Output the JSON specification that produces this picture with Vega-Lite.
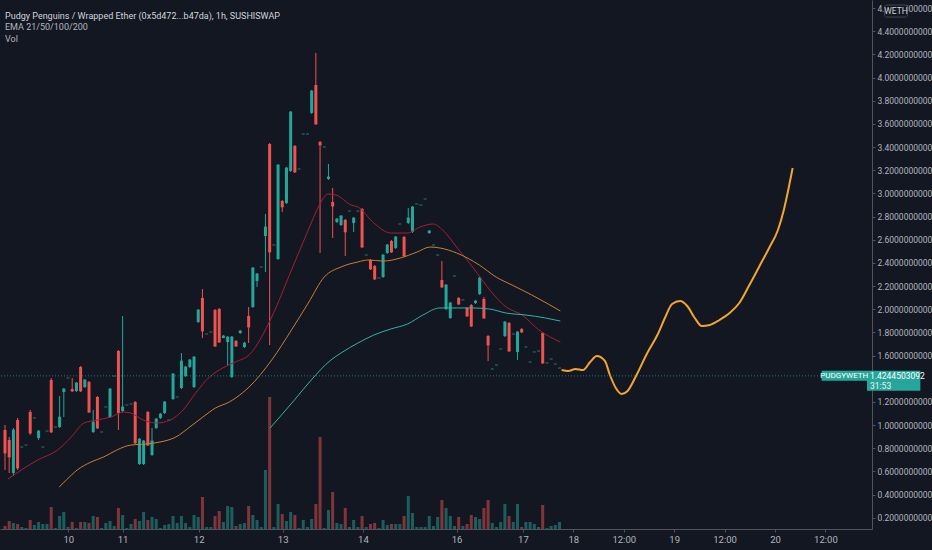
{
  "$schema": "https://vega.github.io/schema/vega-lite/v6.json",
  "autosize": {"type": "none"},
  "padding": {"left": 0, "top": 0, "right": 60, "bottom": 21},
  "width": 872,
  "height": 529,
  "background": "#131722",
  "title": {
    "text": "Pudgy Penguins / Wrapped Ether (0x5d472...b47da), 1h, SUSHISWAP",
    "subtitle": ["EMA 21/50/100/200", "Vol"],
    "anchor": "start",
    "frame": "group",
    "orient": "top",
    "offset": -44,
    "dx": 5,
    "font": "Roboto, sans-serif",
    "fontSize": 9,
    "fontWeight": "normal",
    "color": "#d1d4dc",
    "subtitleFont": "Roboto, sans-serif",
    "subtitleFontSize": 9,
    "subtitleColor": "#b2b5be",
    "subtitleLineHeight": 12.5,
    "subtitlePadding": 2
  },
  "datasets": {
    "candles": [
      {"bar": 0, "open": 0.957, "high": 1.0, "low": 0.612, "close": 0.758, "volume": 3},
      {"bar": 1, "open": 0.871, "high": 0.897, "low": 0.586, "close": 0.724, "volume": 8},
      {"bar": 2, "open": 0.586, "high": 0.974, "low": 0.56, "close": 0.957, "volume": 6},
      {"bar": 3, "open": 1.043, "high": 1.061, "low": 0.612, "close": 0.629, "volume": 5},
      {"bar": 4, "open": 0.81, "high": 0.81, "low": 0.81, "close": 0.81, "volume": 2},
      {"bar": 5, "open": 0.827, "high": 0.827, "low": 0.827, "close": 0.827, "volume": 1},
      {"bar": 6, "open": 1.112, "high": 1.13, "low": 0.914, "close": 0.931, "volume": 9},
      {"bar": 7, "open": 1.061, "high": 1.061, "low": 1.061, "close": 1.061, "volume": 4},
      {"bar": 8, "open": 0.888, "high": 0.957, "low": 0.871, "close": 0.948, "volume": 7},
      {"bar": 9, "open": 0.81, "high": 0.81, "low": 0.81, "close": 0.81, "volume": 5},
      {"bar": 10, "open": 0.948, "high": 0.948, "low": 0.948, "close": 0.948, "volume": 5},
      {"bar": 11, "open": 1.389, "high": 1.406, "low": 0.931, "close": 0.94, "volume": 22},
      {"bar": 12, "open": 0.983, "high": 0.983, "low": 0.983, "close": 0.983, "volume": 1},
      {"bar": 13, "open": 0.983, "high": 1.251, "low": 0.974, "close": 1.069, "volume": 13},
      {"bar": 14, "open": 1.285, "high": 1.32, "low": 1.069, "close": 1.311, "volume": 17},
      {"bar": 15, "open": 1.406, "high": 1.406, "low": 1.406, "close": 1.406, "volume": 2},
      {"bar": 16, "open": 1.311, "high": 1.406, "low": 1.285, "close": 1.294, "volume": 7},
      {"bar": 17, "open": 1.294, "high": 1.372, "low": 1.285, "close": 1.363, "volume": 1},
      {"bar": 18, "open": 1.501, "high": 1.51, "low": 1.285, "close": 1.294, "volume": 7},
      {"bar": 19, "open": 1.328, "high": 1.397, "low": 1.32, "close": 1.389, "volume": 7},
      {"bar": 20, "open": 1.372, "high": 1.38, "low": 1.104, "close": 1.112, "volume": 6},
      {"bar": 21, "open": 0.94, "high": 1.13, "low": 0.931, "close": 1.026, "volume": 13},
      {"bar": 22, "open": 1.242, "high": 1.251, "low": 0.966, "close": 0.974, "volume": 12},
      {"bar": 23, "open": 0.94, "high": 0.94, "low": 0.94, "close": 0.94, "volume": 1},
      {"bar": 24, "open": 1.156, "high": 1.156, "low": 1.156, "close": 1.156, "volume": 6},
      {"bar": 25, "open": 1.069, "high": 1.32, "low": 1.061, "close": 1.311, "volume": 8},
      {"bar": 26, "open": 1.423, "high": 1.423, "low": 1.423, "close": 1.423, "volume": 3},
      {"bar": 27, "open": 1.639, "high": 1.648, "low": 0.957, "close": 1.104, "volume": 21},
      {"bar": 28, "open": 1.121, "high": 1.942, "low": 1.112, "close": 1.156, "volume": 14},
      {"bar": 29, "open": 1.173, "high": 1.173, "low": 1.173, "close": 1.173, "volume": 1},
      {"bar": 30, "open": 1.182, "high": 1.182, "low": 1.182, "close": 1.182, "volume": 5},
      {"bar": 31, "open": 1.199, "high": 1.207, "low": 0.836, "close": 0.845, "volume": 10},
      {"bar": 32, "open": 0.663, "high": 0.888, "low": 0.655, "close": 0.879, "volume": 8},
      {"bar": 33, "open": 0.663, "high": 0.871, "low": 0.655, "close": 0.862, "volume": 17},
      {"bar": 34, "open": 1.112, "high": 1.121, "low": 0.819, "close": 0.827, "volume": 9},
      {"bar": 35, "open": 0.741, "high": 0.974, "low": 0.732, "close": 0.862, "volume": 12},
      {"bar": 36, "open": 0.974, "high": 1.061, "low": 0.966, "close": 1.052, "volume": 10},
      {"bar": 37, "open": 1.061, "high": 1.104, "low": 1.052, "close": 1.095, "volume": 1},
      {"bar": 38, "open": 1.104, "high": 1.207, "low": 1.095, "close": 1.199, "volume": 4},
      {"bar": 39, "open": 1.043, "high": 1.043, "low": 1.043, "close": 1.043, "volume": 5},
      {"bar": 40, "open": 1.225, "high": 1.449, "low": 1.216, "close": 1.441, "volume": 13},
      {"bar": 41, "open": 1.242, "high": 1.242, "low": 1.242, "close": 1.242, "volume": 6},
      {"bar": 42, "open": 1.32, "high": 1.622, "low": 1.311, "close": 1.553, "volume": 13},
      {"bar": 43, "open": 1.423, "high": 1.51, "low": 1.415, "close": 1.501, "volume": 6},
      {"bar": 44, "open": 1.501, "high": 1.57, "low": 1.492, "close": 1.562, "volume": 2},
      {"bar": 45, "open": 1.328, "high": 1.596, "low": 1.32, "close": 1.587, "volume": 14},
      {"bar": 46, "open": 1.89, "high": 2.002, "low": 1.881, "close": 1.993, "volume": 12},
      {"bar": 47, "open": 2.097, "high": 2.175, "low": 1.751, "close": 1.812, "volume": 32},
      {"bar": 48, "open": 1.786, "high": 1.786, "low": 1.786, "close": 1.786, "volume": 2},
      {"bar": 49, "open": 1.803, "high": 1.803, "low": 1.803, "close": 1.803, "volume": 2},
      {"bar": 50, "open": 1.993, "high": 2.002, "low": 1.674, "close": 1.682, "volume": 13},
      {"bar": 51, "open": 2.002, "high": 2.011, "low": 1.708, "close": 1.717, "volume": 18},
      {"bar": 52, "open": 1.751, "high": 1.777, "low": 1.751, "close": 1.769, "volume": 7},
      {"bar": 53, "open": 1.717, "high": 1.769, "low": 1.518, "close": 1.76, "volume": 23},
      {"bar": 54, "open": 1.415, "high": 1.769, "low": 1.406, "close": 1.76, "volume": 22},
      {"bar": 55, "open": 1.726, "high": 1.734, "low": 1.674, "close": 1.682, "volume": 3},
      {"bar": 56, "open": 1.795, "high": 1.821, "low": 1.786, "close": 1.812, "volume": 5},
      {"bar": 57, "open": 1.674, "high": 1.717, "low": 1.665, "close": 1.708, "volume": 6},
      {"bar": 58, "open": 1.942, "high": 2.019, "low": 1.708, "close": 1.846, "volume": 23},
      {"bar": 59, "open": 2.019, "high": 2.365, "low": 2.011, "close": 2.356, "volume": 14},
      {"bar": 60, "open": 2.244, "high": 2.313, "low": 2.192, "close": 2.304, "volume": 9},
      {"bar": 61, "open": 2.365, "high": 2.365, "low": 2.365, "close": 2.365, "volume": 2},
      {"bar": 62, "open": 2.632, "high": 2.822, "low": 2.321, "close": 2.71, "volume": 59},
      {"bar": 63, "open": 3.427, "high": 3.435, "low": 1.691, "close": 2.494, "volume": 132},
      {"bar": 64, "open": 2.555, "high": 2.555, "low": 2.555, "close": 2.555, "volume": 2},
      {"bar": 65, "open": 2.434, "high": 3.254, "low": 2.425, "close": 3.245, "volume": 25},
      {"bar": 66, "open": 2.935, "high": 2.943, "low": 2.84, "close": 2.883, "volume": 15},
      {"bar": 67, "open": 2.917, "high": 3.228, "low": 2.909, "close": 3.22, "volume": 8},
      {"bar": 68, "open": 3.194, "high": 3.712, "low": 3.185, "close": 3.703, "volume": 17},
      {"bar": 69, "open": 3.41, "high": 3.418, "low": 3.176, "close": 3.185, "volume": 14},
      {"bar": 70, "open": 3.211, "high": 3.211, "low": 3.211, "close": 3.211, "volume": 1},
      {"bar": 71, "open": 3.513, "high": 3.513, "low": 3.513, "close": 3.513, "volume": 9},
      {"bar": 72, "open": 3.513, "high": 3.513, "low": 3.513, "close": 3.513, "volume": 2},
      {"bar": 73, "open": 3.695, "high": 3.893, "low": 3.686, "close": 3.885, "volume": 10},
      {"bar": 74, "open": 3.936, "high": 4.213, "low": 3.591, "close": 3.6, "volume": 25},
      {"bar": 75, "open": 3.444, "high": 3.453, "low": 2.486, "close": 3.418, "volume": 92},
      {"bar": 76, "open": 3.401, "high": 3.401, "low": 3.401, "close": 3.401, "volume": 1},
      {"bar": 77, "open": 3.125, "high": 3.254, "low": 3.116, "close": 3.142, "volume": 19},
      {"bar": 78, "open": 2.926, "high": 3.047, "low": 2.615, "close": 2.891, "volume": 37},
      {"bar": 79, "open": 2.753, "high": 2.788, "low": 2.745, "close": 2.779, "volume": 6},
      {"bar": 80, "open": 2.727, "high": 2.814, "low": 2.719, "close": 2.805, "volume": 5},
      {"bar": 81, "open": 2.771, "high": 2.779, "low": 2.46, "close": 2.667, "volume": 21},
      {"bar": 82, "open": 2.848, "high": 2.848, "low": 2.848, "close": 2.848, "volume": 2},
      {"bar": 83, "open": 2.745, "high": 2.796, "low": 2.667, "close": 2.788, "volume": 9},
      {"bar": 84, "open": 2.848, "high": 2.848, "low": 2.848, "close": 2.848, "volume": 2},
      {"bar": 85, "open": 2.866, "high": 2.874, "low": 2.529, "close": 2.537, "volume": 13},
      {"bar": 86, "open": 2.468, "high": 2.468, "low": 2.468, "close": 2.468, "volume": 2},
      {"bar": 87, "open": 2.425, "high": 2.434, "low": 2.339, "close": 2.347, "volume": 5},
      {"bar": 88, "open": 2.373, "high": 2.382, "low": 2.252, "close": 2.261, "volume": 6},
      {"bar": 89, "open": 2.27, "high": 2.27, "low": 2.27, "close": 2.27, "volume": 1},
      {"bar": 90, "open": 2.278, "high": 2.477, "low": 2.27, "close": 2.468, "volume": 9},
      {"bar": 91, "open": 2.486, "high": 2.563, "low": 2.477, "close": 2.555, "volume": 4},
      {"bar": 92, "open": 2.589, "high": 2.598, "low": 2.486, "close": 2.494, "volume": 5},
      {"bar": 93, "open": 2.529, "high": 2.632, "low": 2.52, "close": 2.624, "volume": 5},
      {"bar": 94, "open": 2.736, "high": 2.736, "low": 2.736, "close": 2.736, "volume": 5},
      {"bar": 95, "open": 2.624, "high": 2.632, "low": 2.451, "close": 2.46, "volume": 13},
      {"bar": 96, "open": 2.745, "high": 2.874, "low": 2.736, "close": 2.788, "volume": 33},
      {"bar": 97, "open": 2.667, "high": 2.891, "low": 2.658, "close": 2.883, "volume": 16},
      {"bar": 98, "open": 2.909, "high": 2.909, "low": 2.909, "close": 2.909, "volume": 2},
      {"bar": 99, "open": 2.9, "high": 2.9, "low": 2.9, "close": 2.9, "volume": 2},
      {"bar": 100, "open": 2.952, "high": 2.952, "low": 2.952, "close": 2.952, "volume": 2},
      {"bar": 101, "open": 2.658, "high": 2.684, "low": 2.65, "close": 2.676, "volume": 13},
      {"bar": 102, "open": 2.555, "high": 2.555, "low": 2.555, "close": 2.555, "volume": 3},
      {"bar": 103, "open": 2.468, "high": 2.468, "low": 2.468, "close": 2.468, "volume": 12},
      {"bar": 104, "open": 2.252, "high": 2.416, "low": 2.183, "close": 2.192, "volume": 29},
      {"bar": 105, "open": 2.002, "high": 2.218, "low": 1.993, "close": 2.209, "volume": 21},
      {"bar": 106, "open": 1.924, "high": 2.062, "low": 1.916, "close": 2.054, "volume": 13},
      {"bar": 107, "open": 2.287, "high": 2.287, "low": 2.287, "close": 2.287, "volume": 3},
      {"bar": 108, "open": 2.097, "high": 2.106, "low": 2.036, "close": 2.045, "volume": 12},
      {"bar": 109, "open": 2.08, "high": 2.08, "low": 2.08, "close": 2.08, "volume": 3},
      {"bar": 110, "open": 2.011, "high": 2.019, "low": 1.933, "close": 1.942, "volume": 5},
      {"bar": 111, "open": 2.036, "high": 2.045, "low": 1.846, "close": 1.855, "volume": 14},
      {"bar": 112, "open": 2.054, "high": 2.08, "low": 2.045, "close": 2.071, "volume": 12},
      {"bar": 113, "open": 2.131, "high": 2.278, "low": 2.123, "close": 2.27, "volume": 10},
      {"bar": 114, "open": 2.088, "high": 2.106, "low": 1.916, "close": 1.924, "volume": 21},
      {"bar": 115, "open": 1.769, "high": 1.777, "low": 1.553, "close": 1.691, "volume": 29},
      {"bar": 116, "open": 1.484, "high": 1.484, "low": 1.484, "close": 1.484, "volume": 6},
      {"bar": 117, "open": 1.518, "high": 1.518, "low": 1.518, "close": 1.518, "volume": 2},
      {"bar": 118, "open": 1.657, "high": 1.657, "low": 1.657, "close": 1.657, "volume": 7},
      {"bar": 119, "open": 1.769, "high": 1.898, "low": 1.76, "close": 1.89, "volume": 25},
      {"bar": 120, "open": 1.881, "high": 1.89, "low": 1.631, "close": 1.639, "volume": 13},
      {"bar": 121, "open": 1.786, "high": 1.786, "low": 1.786, "close": 1.786, "volume": 7},
      {"bar": 122, "open": 1.631, "high": 1.812, "low": 1.562, "close": 1.803, "volume": 25},
      {"bar": 123, "open": 1.829, "high": 1.838, "low": 1.795, "close": 1.803, "volume": 2},
      {"bar": 124, "open": 1.674, "high": 1.674, "low": 1.674, "close": 1.674, "volume": 7},
      {"bar": 125, "open": 1.544, "high": 1.544, "low": 1.544, "close": 1.544, "volume": 7},
      {"bar": 126, "open": 1.631, "high": 1.631, "low": 1.631, "close": 1.631, "volume": 5},
      {"bar": 127, "open": 1.639, "high": 1.639, "low": 1.639, "close": 1.639, "volume": 2},
      {"bar": 128, "open": 1.795, "high": 1.803, "low": 1.527, "close": 1.536, "volume": 24},
      {"bar": 129, "open": 1.536, "high": 1.536, "low": 1.536, "close": 1.536, "volume": 1},
      {"bar": 130, "open": 1.57, "high": 1.57, "low": 1.57, "close": 1.57, "volume": 3},
      {"bar": 131, "open": 1.527, "high": 1.527, "low": 1.527, "close": 1.527, "volume": 4},
      {"bar": 132, "open": 1.492, "high": 1.492, "low": 1.492, "close": 1.492, "volume": 7}
    ],
    "ema": [
      {"series": "EMA 21", "bar": 0.7, "value": 0.534},
      {"series": "EMA 21", "bar": 7.8, "value": 0.698},
      {"series": "EMA 21", "bar": 12.5, "value": 0.784},
      {"series": "EMA 21", "bar": 15.8, "value": 0.897},
      {"series": "EMA 21", "bar": 18.8, "value": 1.017},
      {"series": "EMA 21", "bar": 21.9, "value": 1.043},
      {"series": "EMA 21", "bar": 25.2, "value": 1.069},
      {"series": "EMA 21", "bar": 28.2, "value": 1.112},
      {"series": "EMA 21", "bar": 29.9, "value": 1.104},
      {"series": "EMA 21", "bar": 32.9, "value": 1.043},
      {"series": "EMA 21", "bar": 36, "value": 1.017},
      {"series": "EMA 21", "bar": 39.3, "value": 1.043},
      {"series": "EMA 21", "bar": 42.4, "value": 1.13},
      {"series": "EMA 21", "bar": 45.4, "value": 1.277},
      {"series": "EMA 21", "bar": 48.7, "value": 1.415},
      {"series": "EMA 21", "bar": 51.8, "value": 1.492},
      {"series": "EMA 21", "bar": 54.8, "value": 1.544},
      {"series": "EMA 21", "bar": 58.1, "value": 1.605},
      {"series": "EMA 21", "bar": 63.5, "value": 1.933},
      {"series": "EMA 21", "bar": 68.2, "value": 2.339},
      {"series": "EMA 21", "bar": 72.2, "value": 2.684},
      {"series": "EMA 21", "bar": 74.6, "value": 2.883},
      {"series": "EMA 21", "bar": 76.9, "value": 2.995},
      {"series": "EMA 21", "bar": 78.8, "value": 2.986},
      {"series": "EMA 21", "bar": 82.4, "value": 2.9},
      {"series": "EMA 21", "bar": 84, "value": 2.883},
      {"series": "EMA 21", "bar": 87.8, "value": 2.745},
      {"series": "EMA 21", "bar": 91.8, "value": 2.658},
      {"series": "EMA 21", "bar": 95.8, "value": 2.658},
      {"series": "EMA 21", "bar": 98.8, "value": 2.71},
      {"series": "EMA 21", "bar": 101.9, "value": 2.736},
      {"series": "EMA 21", "bar": 104.2, "value": 2.684},
      {"series": "EMA 21", "bar": 107.5, "value": 2.537},
      {"series": "EMA 21", "bar": 111.3, "value": 2.365},
      {"series": "EMA 21", "bar": 113.6, "value": 2.252},
      {"series": "EMA 21", "bar": 116, "value": 2.14},
      {"series": "EMA 21", "bar": 119.3, "value": 2.019},
      {"series": "EMA 21", "bar": 123.1, "value": 1.95},
      {"series": "EMA 21", "bar": 127.1, "value": 1.821},
      {"series": "EMA 21", "bar": 132.2, "value": 1.717},
      {"series": "EMA 50", "bar": 12.9, "value": 0.465},
      {"series": "EMA 50", "bar": 14.6, "value": 0.525},
      {"series": "EMA 50", "bar": 17.2, "value": 0.612},
      {"series": "EMA 50", "bar": 20.5, "value": 0.681},
      {"series": "EMA 50", "bar": 23.5, "value": 0.724},
      {"series": "EMA 50", "bar": 26.6, "value": 0.784},
      {"series": "EMA 50", "bar": 29.9, "value": 0.827},
      {"series": "EMA 50", "bar": 33.6, "value": 0.836},
      {"series": "EMA 50", "bar": 36.9, "value": 0.853},
      {"series": "EMA 50", "bar": 40.7, "value": 0.897},
      {"series": "EMA 50", "bar": 44, "value": 0.983},
      {"series": "EMA 50", "bar": 47.1, "value": 1.069},
      {"series": "EMA 50", "bar": 50.1, "value": 1.147},
      {"series": "EMA 50", "bar": 53.4, "value": 1.199},
      {"series": "EMA 50", "bar": 56.5, "value": 1.277},
      {"series": "EMA 50", "bar": 58.1, "value": 1.328},
      {"series": "EMA 50", "bar": 63.5, "value": 1.562},
      {"series": "EMA 50", "bar": 68.2, "value": 1.821},
      {"series": "EMA 50", "bar": 72.2, "value": 2.054},
      {"series": "EMA 50", "bar": 76, "value": 2.278},
      {"series": "EMA 50", "bar": 80, "value": 2.365},
      {"series": "EMA 50", "bar": 84, "value": 2.408},
      {"series": "EMA 50", "bar": 86.4, "value": 2.425},
      {"series": "EMA 50", "bar": 90.1, "value": 2.416},
      {"series": "EMA 50", "bar": 94.1, "value": 2.442},
      {"series": "EMA 50", "bar": 98.1, "value": 2.494},
      {"series": "EMA 50", "bar": 101.2, "value": 2.537},
      {"series": "EMA 50", "bar": 103.5, "value": 2.529},
      {"series": "EMA 50", "bar": 107.5, "value": 2.486},
      {"series": "EMA 50", "bar": 112.9, "value": 2.382},
      {"series": "EMA 50", "bar": 116.9, "value": 2.278},
      {"series": "EMA 50", "bar": 120.7, "value": 2.209},
      {"series": "EMA 50", "bar": 125.4, "value": 2.123},
      {"series": "EMA 50", "bar": 132.2, "value": 1.985},
      {"series": "EMA 100", "bar": 63.1, "value": 0.974},
      {"series": "EMA 100", "bar": 68.9, "value": 1.216},
      {"series": "EMA 100", "bar": 72.9, "value": 1.389},
      {"series": "EMA 100", "bar": 77.6, "value": 1.562},
      {"series": "EMA 100", "bar": 80, "value": 1.622},
      {"series": "EMA 100", "bar": 84, "value": 1.708},
      {"series": "EMA 100", "bar": 87.8, "value": 1.777},
      {"series": "EMA 100", "bar": 91.8, "value": 1.829},
      {"series": "EMA 100", "bar": 95.8, "value": 1.872},
      {"series": "EMA 100", "bar": 99.5, "value": 1.95},
      {"series": "EMA 100", "bar": 103.5, "value": 2.011},
      {"series": "EMA 100", "bar": 107.5, "value": 2.011},
      {"series": "EMA 100", "bar": 111.3, "value": 2.011},
      {"series": "EMA 100", "bar": 115.3, "value": 2.002},
      {"series": "EMA 100", "bar": 119.3, "value": 1.967},
      {"series": "EMA 100", "bar": 124, "value": 1.95},
      {"series": "EMA 100", "bar": 128.7, "value": 1.924},
      {"series": "EMA 100", "bar": 132.2, "value": 1.898}
    ],
    "projection": [
      {"bar": 132.5, "price": 1.475},
      {"bar": 134.1, "price": 1.466},
      {"bar": 135.8, "price": 1.484},
      {"bar": 137.6, "price": 1.475},
      {"bar": 139.3, "price": 1.544},
      {"bar": 140.9, "price": 1.596},
      {"bar": 142.8, "price": 1.553},
      {"bar": 144, "price": 1.432},
      {"bar": 145.4, "price": 1.32},
      {"bar": 146.8, "price": 1.268},
      {"bar": 148.2, "price": 1.294},
      {"bar": 150.1, "price": 1.415},
      {"bar": 152.9, "price": 1.622},
      {"bar": 155.3, "price": 1.777},
      {"bar": 157.2, "price": 1.933},
      {"bar": 158.8, "price": 2.045},
      {"bar": 160.7, "price": 2.071},
      {"bar": 162.4, "price": 2.028},
      {"bar": 164.2, "price": 1.924},
      {"bar": 165.9, "price": 1.855},
      {"bar": 167.8, "price": 1.864},
      {"bar": 170.1, "price": 1.907},
      {"bar": 172.5, "price": 1.967},
      {"bar": 174.8, "price": 2.054},
      {"bar": 177.2, "price": 2.209},
      {"bar": 179.5, "price": 2.365},
      {"bar": 181.9, "price": 2.529},
      {"bar": 184, "price": 2.684},
      {"bar": 185.4, "price": 2.857},
      {"bar": 186.6, "price": 3.055},
      {"bar": 187.5, "price": 3.22}
    ],
    "last": [{"symbol": "PUDGYWETH", "price": 1.4244503092, "countdown": "31:53"}],
    "unit": [{"label": "WETH"}]
  },
  "layer": [
    {
      "data": {"name": "candles"},
      "mark": {"type": "bar", "orient": "vertical", "size": 3, "opacity": 0.5},
      "encoding": {
        "x": {
          "field": "bar",
          "type": "quantitative",
          "scale": {"domain": [0, 205.2], "nice": false, "zero": false},
          "axis": {
            "title": null,
            "orient": "bottom",
            "values": [15.06, 28, 46.1, 66.1, 85.2, 107.5, 123.3, 135.3, 147.3, 159.3, 171.3, 183.3, 195.3],
            "labelExpr": "datum.value < 20 ? '10' : datum.value < 35 ? '11' : datum.value < 55 ? '12' : datum.value < 75 ? '13' : datum.value < 95 ? '14' : datum.value < 115 ? '16' : datum.value < 130 ? '17' : datum.value < 140 ? '18' : datum.value < 150 ? '12:00' : datum.value < 165 ? '19' : datum.value < 175 ? '12:00' : datum.value < 190 ? '20' : '12:00'",
            "tickSize": 3,
            "labelPadding": 2,
            "labelFontSize": 9.5,
            "labelOverlap": false,
            "labelFlush": false
          }
        },
        "y": {"field": "volume", "type": "quantitative", "scale": {"domain": [0, 529], "nice": false}, "axis": null},
        "color": {"condition": {"test": "datum.close >= datum.open", "value": "#26a69a"}, "value": "#ef5350"}
      }
    },
    {
      "data": {"name": "candles"},
      "mark": {"type": "rule", "strokeWidth": 1},
      "encoding": {
        "x": {"field": "bar", "type": "quantitative", "scale": {"domain": [0, 205.2], "nice": false, "zero": false}, "axis": null},
        "y": {"field": "low", "type": "quantitative", "scale": {"domain": [0.1021, 4.6703], "nice": false, "zero": false}, "axis": null},
        "y2": {"field": "high"},
        "color": {"condition": {"test": "datum.close >= datum.open", "value": "#26a69a"}, "value": "#ef5350"}
      }
    },
    {
      "data": {"name": "candles"},
      "mark": {"type": "bar", "size": 3},
      "encoding": {
        "x": {"field": "bar", "type": "quantitative", "scale": {"domain": [0, 205.2], "nice": false, "zero": false}, "axis": null},
        "y": {
          "field": "open",
          "type": "quantitative",
          "scale": {"domain": [0.1021, 4.6703], "nice": false, "zero": false},
          "axis": {
            "title": null,
            "orient": "right",
            "values": [0.2, 0.4, 0.6, 0.8, 1.0, 1.2, 1.6, 1.8, 2.0, 2.2, 2.4, 2.6, 2.8, 3.0, 3.2, 3.4, 3.6, 3.8, 4.0, 4.2, 4.4, 4.6],
            "format": ".10f",
            "tickSize": 3,
            "labelPadding": 2,
            "labelFontSize": 8.5,
            "labelOverlap": false,
            "labelFlush": false
          }
        },
        "y2": {"field": "close"},
        "color": {"condition": {"test": "datum.close >= datum.open", "value": "#26a69a"}, "value": "#ef5350"}
      }
    },
    {
      "data": {"name": "candles"},
      "mark": {"type": "tick", "orient": "horizontal", "size": 3, "thickness": 1},
      "encoding": {
        "x": {"field": "bar", "type": "quantitative", "scale": {"domain": [0, 205.2], "nice": false, "zero": false}, "axis": null},
        "y": {"field": "close", "type": "quantitative", "scale": {"domain": [0.1021, 4.6703], "nice": false, "zero": false}, "axis": null},
        "color": {"condition": {"test": "datum.close >= datum.open", "value": "#26a69a"}, "value": "#ef5350"}
      }
    },
    {
      "data": {"name": "ema"},
      "mark": {"type": "line", "strokeWidth": 1, "interpolate": "monotone"},
      "encoding": {
        "x": {"field": "bar", "type": "quantitative", "scale": {"domain": [0, 205.2], "nice": false, "zero": false}, "axis": null},
        "y": {"field": "value", "type": "quantitative", "scale": {"domain": [0.1021, 4.6703], "nice": false, "zero": false}, "axis": null},
        "color": {
          "field": "series",
          "type": "nominal",
          "scale": {"domain": ["EMA 21", "EMA 50", "EMA 100"], "range": ["#a61e35", "#c98030", "#2fb2aa"]},
          "legend": null
        }
      }
    },
    {
      "data": {"name": "projection"},
      "mark": {"type": "line", "strokeWidth": 2, "interpolate": "monotone", "color": "#f4a52b"},
      "encoding": {
        "x": {"field": "bar", "type": "quantitative", "scale": {"domain": [0, 205.2], "nice": false, "zero": false}, "axis": null},
        "y": {"field": "price", "type": "quantitative", "scale": {"domain": [0.1021, 4.6703], "nice": false, "zero": false}, "axis": null}
      }
    },
    {
      "data": {"name": "last"},
      "mark": {"type": "rule", "strokeWidth": 1, "strokeDash": [1, 2], "color": "#26a69a", "opacity": 0.7},
      "encoding": {
        "y": {"field": "price", "type": "quantitative", "scale": {"domain": [0.1021, 4.6703], "nice": false, "zero": false}, "axis": null}
      }
    },
    {
      "data": {"name": "last"},
      "mark": {"type": "rect", "color": "#26a69a", "height": 10},
      "encoding": {
        "x": {"datum": 194.4, "type": "quantitative", "scale": {"domain": [0, 205.2], "nice": false, "zero": false}, "axis": null},
        "x2": {"datum": 205.2},
        "y": {"field": "price", "type": "quantitative", "scale": {"domain": [0.1021, 4.6703], "nice": false, "zero": false}, "axis": null}
      }
    },
    {
      "data": {"name": "last"},
      "mark": {"type": "rect", "color": "#26a69a", "height": 20, "yOffset": 5},
      "encoding": {
        "x": {"datum": 205.2, "type": "quantitative", "scale": {"domain": [0, 205.2], "nice": false, "zero": false}, "axis": null},
        "x2": {"datum": 217.9},
        "y": {"field": "price", "type": "quantitative", "scale": {"domain": [0.1021, 4.6703], "nice": false, "zero": false}, "axis": null}
      }
    },
    {
      "data": {"name": "last"},
      "mark": {"type": "text", "color": "#ffffff", "fontSize": 8, "font": "Roboto, sans-serif", "align": "center", "baseline": "middle"},
      "encoding": {
        "x": {"datum": 199.8, "type": "quantitative", "scale": {"domain": [0, 205.2], "nice": false, "zero": false}, "axis": null},
        "y": {"field": "price", "type": "quantitative", "scale": {"domain": [0.1021, 4.6703], "nice": false, "zero": false}, "axis": null},
        "text": {"field": "symbol"}
      }
    },
    {
      "data": {"name": "last"},
      "mark": {"type": "text", "color": "#ffffff", "fontSize": 8.5, "font": "Roboto, sans-serif", "align": "left", "baseline": "middle", "dx": 3},
      "encoding": {
        "x": {"datum": 205.2, "type": "quantitative", "scale": {"domain": [0, 205.2], "nice": false, "zero": false}, "axis": null},
        "y": {"field": "price", "type": "quantitative", "scale": {"domain": [0.1021, 4.6703], "nice": false, "zero": false}, "axis": null},
        "text": {"field": "price", "format": ".10f"}
      }
    },
    {
      "data": {"name": "last"},
      "mark": {"type": "text", "color": "#e6f4f2", "fontSize": 8.5, "font": "Roboto, sans-serif", "align": "left", "baseline": "middle", "dx": 3, "dy": 10},
      "encoding": {
        "x": {"datum": 205.2, "type": "quantitative", "scale": {"domain": [0, 205.2], "nice": false, "zero": false}, "axis": null},
        "y": {"field": "price", "type": "quantitative", "scale": {"domain": [0.1021, 4.6703], "nice": false, "zero": false}, "axis": null},
        "text": {"field": "countdown"}
      }
    },
    {
      "data": {"name": "unit"},
      "mark": {"type": "rect", "fill": "#131722", "stroke": "#434651", "strokeWidth": 1, "cornerRadius": 2},
      "encoding": {
        "x": {"datum": 209.4, "type": "quantitative", "scale": {"domain": [0, 205.2], "nice": false, "zero": false}, "axis": null},
        "x2": {"datum": 214.8},
        "y": {"datum": 4.627, "type": "quantitative", "scale": {"domain": [0.1021, 4.6703], "nice": false, "zero": false}, "axis": null},
        "y2": {"datum": 4.523}
      }
    },
    {
      "data": {"name": "unit"},
      "mark": {"type": "text", "color": "#d1d4dc", "fontSize": 8.5, "font": "Roboto, sans-serif", "align": "center", "baseline": "middle"},
      "encoding": {
        "x": {"datum": 212.1, "type": "quantitative", "scale": {"domain": [0, 205.2], "nice": false, "zero": false}, "axis": null},
        "y": {"datum": 4.575, "type": "quantitative", "scale": {"domain": [0.1021, 4.6703], "nice": false, "zero": false}, "axis": null},
        "text": {"field": "label"}
      }
    }
  ],
  "resolve": {"scale": {"y": "independent"}, "axis": {"x": "independent"}},
  "config": {
    "view": {"stroke": null},
    "axis": {
      "grid": false,
      "domainColor": "#50535e",
      "tickColor": "#50535e",
      "labelColor": "#b2b5be",
      "labelFont": "Roboto, sans-serif"
    }
  }
}
